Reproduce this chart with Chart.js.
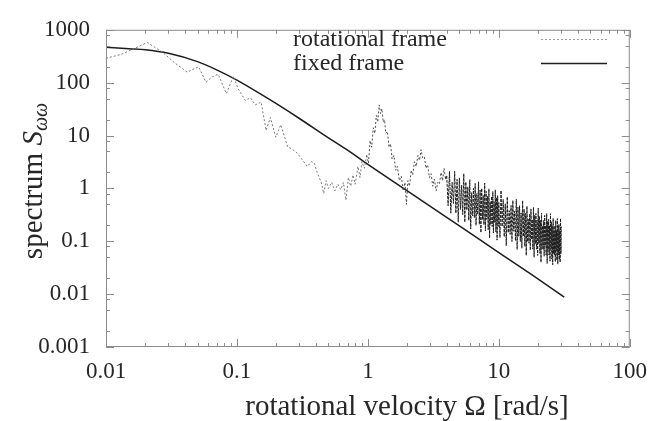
<!DOCTYPE html>
<html>
<head>
<meta charset="utf-8">
<script src="https://cdn.jsdelivr.net/npm/chart.js@4.4.1/dist/chart.umd.min.js"></script>
<style>
  html, body { margin: 0; padding: 0; background: #fff; }
  #wrap { width: 658px; height: 421px; }
</style>
</head>
<body>
<div id="wrap"><canvas id="spec" width="658" height="421"></canvas></div>
<script>
// values (log-log)
const rotX = [
  0.01, 0.013, 0.015, 0.0207, 0.0269, 0.034, 0.0417, 0.051, 0.058, 0.065, 0.072, 0.083, 0.094, 0.102,
  0.116, 0.127, 0.138, 0.153, 0.167, 0.18, 0.198, 0.216, 0.244, 0.265, 0.29, 0.315, 0.345, 0.37, 0.39,
  0.41, 0.44, 0.46, 0.48, 0.5, 0.53, 0.56, 0.59, 0.62, 0.65, 0.68, 0.71, 0.74, 0.77, 0.8, 0.84, 0.87,
  0.9, 0.94, 0.98, 1.01, 1.04, 1.07, 1.1, 1.13, 1.16, 1.19, 1.22, 1.25, 1.28, 1.31, 1.34, 1.37, 1.41,
  1.45, 1.49, 1.53, 1.58, 1.63, 1.68, 1.74, 1.8, 1.86, 1.92, 1.97, 2.02, 2.08, 2.14, 2.2, 2.27, 2.34,
  2.41, 2.48, 2.55, 2.62, 2.7, 2.78, 2.86, 2.95, 3.04, 3.13, 3.22, 3.32, 3.42, 3.52, 3.62, 3.72, 3.82, 3.92,
  4.0, 4.1, 4.2, 4.3, 4.4, 4.5, 4.6, 4.7, 4.8, 4.9, 5.0, 5.1, 5.2, 5.3, 5.4, 5.5, 5.6, 5.7, 5.8, 5.9,
  6.0, 6.1, 6.2, 6.3, 6.4, 6.5, 6.6, 6.7, 6.8, 6.9, 7.0, 7.1, 7.2, 7.3, 7.4, 7.5, 7.6, 7.7, 7.8, 7.9,
  8.0, 8.1, 8.2, 8.3, 8.4, 8.5, 8.6, 8.7, 8.8, 8.9, 9.0, 9.1, 9.2, 9.3, 9.4, 9.5, 9.6, 9.7, 9.8, 9.9, 10.0,
  10.2, 10.4, 10.6, 10.8, 11.0, 11.2, 11.4, 11.6, 11.8, 12.0, 12.2, 12.4, 12.6, 12.8, 13.0, 13.2, 13.4,
  13.6, 13.8, 14.0, 14.2, 14.4, 14.6, 14.8, 15.0, 15.2, 15.4, 15.6, 15.8, 16.0, 16.2, 16.4, 16.6, 16.8,
  17.0, 17.2, 17.4, 17.6, 17.8, 18.0, 18.2, 18.4, 18.6, 18.8, 19.0, 19.2, 19.4, 19.6, 19.8, 20.0, 20.2,
  20.4, 20.6, 20.8, 21.0, 21.2, 21.4, 21.6, 21.8, 22.0, 22.2, 22.4, 22.6, 22.8, 23.0, 23.2, 23.4, 23.6,
  23.8, 24.0, 24.2, 24.4, 24.6, 24.8, 25.0, 25.2, 25.4, 25.6, 25.8, 26.0, 26.2, 26.4, 26.6, 26.8, 27.0,
  27.2, 27.4, 27.6, 27.8, 28.0, 28.2, 28.4, 28.6, 28.8, 29.0, 29.2, 29.4, 29.6, 29.8, 30.0
];
const rotY = [
  290, 340, 400, 575, 380, 230, 158, 200, 102, 130, 144, 62, 132, 77,
  46, 52, 38, 43, 12.5, 22, 9.3, 16, 6.1, 5.5, 4.6, 3.5, 2.6, 3.2, 3.0,
  2.0, 1.3, 0.8, 1.4, 1.0, 1.3, 0.9, 1.2, 0.95, 1.3, 0.6, 1.6, 1.1, 1.8, 1.2, 2.6, 1.6,
  3.2, 2.4, 4.2, 3.0, 8, 6, 14, 11, 24, 18, 38, 26, 32, 18, 20, 11, 12,
  6, 7, 3.6, 4.2, 2.2, 2.6, 1.4, 1.7, 0.9, 1.3, 0.5, 1.4, 1.1, 2.2, 1.8, 3.2, 2.6,
  4.2, 3.4, 5.4, 3.8, 4.0, 2.4, 2.8, 1.6, 1.9, 1.1, 1.5, 0.9, 1.3, 1.2, 2.0, 1.4, 2.4, 1.5,
  1.75, 0.47, 2.1, 0.34, 1.3, 0.52, 2.1, 0.34, 1.48, 0.23, 1.58, 0.40, 1.15, 0.32, 1.9, 0.23, 1.32, 0.39, 1.07, 0.25,
  1.46, 0.17, 0.83, 0.30, 1.0, 0.28, 1.24, 0.20, 0.80, 0.32, 1.33, 0.21, 0.93, 0.146, 1.0, 0.26, 0.74, 0.205, 1.26, 0.156,
  0.88, 0.26, 0.71, 0.166, 0.98, 0.115, 0.56, 0.205, 0.70, 0.19, 0.87, 0.143, 0.56, 0.227, 0.94, 0.15, 0.67, 0.105, 0.73, 0.19, 0.54,
  0.117, 0.91, 0.19, 0.62, 0.122, 0.51, 0.082, 0.69, 0.146, 0.38, 0.135, 0.475, 0.099, 0.59, 0.155, 0.37, 0.102,
  0.62, 0.070, 0.44, 0.124, 0.47, 0.099, 0.345, 0.074, 0.585, 0.124, 0.406, 0.08, 0.335, 0.054, 0.46, 0.098, 0.26,
  0.092, 0.33, 0.068, 0.41, 0.108, 0.258, 0.071, 0.437, 0.05, 0.31, 0.089, 0.336, 0.071, 0.25, 0.054, 0.425, 0.09,
  0.298, 0.059, 0.248, 0.040, 0.343, 0.073, 0.196, 0.069, 0.247, 0.052, 0.308, 0.082, 0.197, 0.055, 0.335, 0.038, 0.239,
  0.069, 0.26, 0.055, 0.195, 0.042, 0.333, 0.071, 0.234, 0.046, 0.196, 0.036, 0.271, 0.058, 0.155, 0.055, 0.196, 0.041,
  0.246, 0.066, 0.158, 0.044, 0.268, 0.037, 0.192, 0.055, 0.21, 0.045, 0.157, 0.04, 0.27, 0.058, 0.19
];
const fixedX = [0.01, 0.015, 0.02, 0.03, 0.05, 0.07, 0.1, 0.15, 0.2, 0.3, 0.5, 0.7, 1, 2, 3, 5, 10, 20, 31.6];
const fixedY = [470, 440, 420, 360, 250, 175, 112, 62, 40, 21, 9.0, 5.3, 2.85, 0.9, 0.455, 0.195, 0.061, 0.0193, 0.0088];

const seriesNames = ['rotational frame', 'fixed frame'];
const xTickLabels = ['0.01', '0.1', '1', '10', '100'];
const yTickLabels = ['0.001', '0.01', '0.1', '1', '10', '100', '1000'];
const xMinorSteps = [2, 3, 4, 5, 6, 7, 8, 9];
const yMinorSteps = [2, 5, 8];

const serif = "'Liberation Serif', 'DejaVu Serif', serif";
const textColor = '#262626';
const axisColor = '#8c8c8c';

function buildTicks(labels, steps) {
  const majors = labels.map(Number);
  const out = [];
  majors.forEach((m, i) => {
    out.push({ value: m, major: true });
    if (i < majors.length - 1) steps.forEach(k => out.push({ value: m * k, major: false }));
  });
  return out;
}

function labelFor(labels) {
  return function (value) {
    const hit = labels.find(l => Math.abs(Math.log10(Number(l)) - Math.log10(value)) < 1e-6);
    return hit || '';
  };
}

// the noisy high-frequency part piles up and reads almost black
function rotColor(c) {
  const x = c.p0.parsed.x;
  if (x >= 3.9) return '#1e1e1e';
  if (x >= 0.95) return '#4a4a4a';
  return '#7a7a7a';
}

const framePlugin = {
  id: 'frame',
  afterDraw(chart) {
    const { ctx, chartArea: a, scales } = chart;
    ctx.save();
    ctx.strokeStyle = axisColor;
    ctx.lineWidth = 1;
    ctx.strokeRect(a.left + 0.5, a.top + 0.5, a.right - a.left - 1, a.bottom - a.top - 1);

    ctx.beginPath();
    scales.x.ticks.forEach(t => {
      const px = Math.round(scales.x.getPixelForValue(t.value)) + 0.5;
      const len = t.major ? 8 : 4;
      ctx.moveTo(px, a.bottom); ctx.lineTo(px, a.bottom - len);
      ctx.moveTo(px, a.top); ctx.lineTo(px, a.top + len);
    });
    scales.y.ticks.forEach(t => {
      const py = Math.round(scales.y.getPixelForValue(t.value)) + 0.5;
      const len = t.major ? 8 : 4;
      ctx.moveTo(a.left, py); ctx.lineTo(a.left + len, py);
      ctx.moveTo(a.right, py); ctx.lineTo(a.right - len, py);
    });
    ctx.stroke();

    // axis titles
    ctx.fillStyle = textColor;
    ctx.font = '29px ' + serif;
    ctx.textAlign = 'center';
    ctx.textBaseline = 'alphabetic';
    ctx.fillText('rotational velocity \u03A9 [rad/s]', 407, 415);

    ctx.save();
    ctx.translate(42, 181);
    ctx.rotate(-Math.PI / 2);
    const parts = [
      { t: 'spectrum ', f: '29px ' + serif, dy: 0 },
      { t: 'S', f: 'italic 29px ' + serif, dy: 0 },
      { t: '\u03C9\u03C9', f: 'italic 20px ' + serif, dy: 5 }
    ];
    let total = 0;
    parts.forEach(p => { ctx.font = p.f; p.w = ctx.measureText(p.t).width; total += p.w; });
    let x0 = -total / 2;
    ctx.textAlign = 'left';
    parts.forEach(p => { ctx.font = p.f; ctx.fillText(p.t, x0, p.dy); x0 += p.w; });
    ctx.restore();

    // key, gnuplot style: text left, sample right
    ctx.font = '24px ' + serif;
    ctx.textAlign = 'left';
    ctx.textBaseline = 'middle';
    const rows = [39, 63];
    chart.data.datasets.forEach((ds, i) => {
      ctx.fillStyle = textColor;
      ctx.fillText(ds.label, 293, rows[i] + 1);
      ctx.beginPath();
      ctx.strokeStyle = i === 0 ? '#9a9a9a' : ds.borderColor;
      ctx.lineWidth = ds.borderWidth;
      ctx.setLineDash(ds.borderDash || []);
      ctx.moveTo(541, rows[i] + 0.5);
      ctx.lineTo(607, rows[i] + 0.5);
      ctx.stroke();
    });
    ctx.restore();
  }
};

new Chart(document.getElementById('spec'), {
  type: 'line',
  data: {
    datasets: [
      {
        label: seriesNames[0],
        data: rotX.map((x, i) => ({ x: x, y: rotY[i] })),
        borderColor: '#7a7a7a',
        borderWidth: 1,
        borderDash: [2, 2],
        pointRadius: 0,
        tension: 0,
        segment: {
          borderColor: rotColor,
          borderDash: c => (c.p0.parsed.x >= 3.9 ? [3, 1] : [2, 2])
        }
      },
      {
        label: seriesNames[1],
        data: fixedX.map((x, i) => ({ x: x, y: fixedY[i] })),
        borderColor: '#1c1c1c',
        borderWidth: 1.5,
        pointRadius: 0,
        cubicInterpolationMode: 'monotone'
      }
    ]
  },
  options: {
    responsive: false,
    animation: false,
    devicePixelRatio: 1,
    layout: { padding: { left: 0, right: 22, top: 19, bottom: 0 } },
    plugins: { legend: { display: false }, tooltip: { enabled: false } },
    scales: {
      x: {
        type: 'logarithmic',
        min: 0.01,
        max: 100,
        grid: { display: false, drawTicks: false },
        border: { display: false },
        afterBuildTicks: s => { s.ticks = buildTicks(xTickLabels, xMinorSteps); },
        afterFit: s => { s.height = 74; },
        ticks: {
          autoSkip: false,
          maxRotation: 0,
          padding: 11,
          color: textColor,
          font: { family: serif, size: 23 },
          callback: labelFor(xTickLabels)
        }
      },
      y: {
        type: 'logarithmic',
        min: 0.001,
        max: 1000,
        grid: { display: false, drawTicks: false },
        border: { display: false },
        afterBuildTicks: s => { s.ticks = buildTicks(yTickLabels, yMinorSteps); },
        afterFit: s => { s.width = 106; },
        ticks: {
          autoSkip: false,
          padding: 16,
          color: textColor,
          font: { family: serif, size: 23 },
          callback: labelFor(yTickLabels)
        }
      }
    }
  },
  plugins: [framePlugin]
});
</script>
</body>
</html>
